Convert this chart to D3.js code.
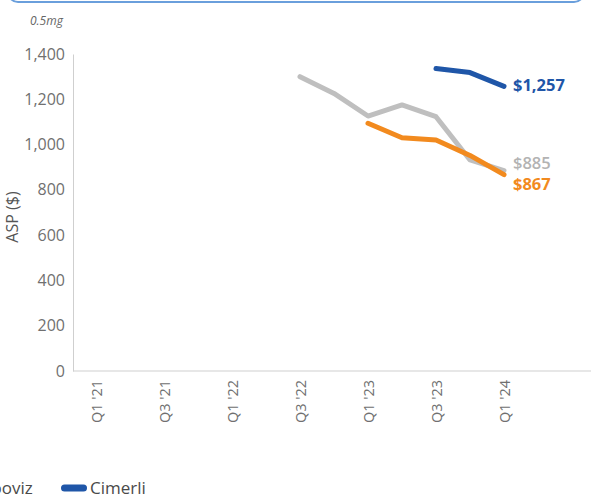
<!DOCTYPE html>
<html lang="en">
<head>
  <meta charset="utf-8">
  <script src="https://d3js.org/d3.v7.min.js"></script>
  <title>ASP 0.5mg</title>
  <style>
    body { margin: 0; background: #fff; }
    svg { display: block; font-family: "Open Sans", sans-serif; }
  </style>
</head>
<body>
<div id="my_dataviz"></div>
<script>
  // quarters on the x axis, every other one labelled
  const quarters = ["Q1 '21", "Q2 '21", "Q3 '21", "Q4 '21", "Q1 '22", "Q2 '22", "Q3 '22",
    "Q4 '22", "Q1 '23", "Q2 '23", "Q3 '23", "Q4 '23", "Q1 '24"];
  const tickQuarters = ["Q1 '21", "Q3 '21", "Q1 '22", "Q3 '22", "Q1 '23", "Q3 '23", "Q1 '24"];
  const yTicks = [0, 200, 400, 600, 800, 1000, 1200, 1400];

  // ASP values ($)
  const lucentisQ = ["Q3 '22", "Q4 '22", "Q1 '23", "Q2 '23", "Q3 '23", "Q4 '23", "Q1 '24"];
  const lucentisV = [1300, 1226, 1126, 1175, 1123, 932, 885];
  const byoovizQ = ["Q1 '23", "Q2 '23", "Q3 '23", "Q4 '23", "Q1 '24"];
  const byoovizV = [1094, 1030, 1020, 952, 867];
  const cimerliQ = ["Q3 '23", "Q4 '23", "Q1 '24"];
  const cimerliV = [1336, 1318, 1257];

  const series = [
    { name: "Lucentis", q: lucentisQ, v: lucentisV, color: "#bfbfbf", text: "#b3b3b3", label: "$885", weight: 600, dy: -7 },
    { name: "Byooviz", q: byoovizQ, v: byoovizV, color: "#f28a1e", text: "#f28a1e", label: "$867", weight: 700, dy: 10 },
    { name: "Cimerli", q: cimerliQ, v: cimerliV, color: "#1f56a8", text: "#1f56a8", label: "$1,257", weight: 700, dy: -1 }
  ];

  const W = 593, H = 497;
  const plotLeft = 73, plotRight = 591;

  const svg = d3.select("#my_dataviz")
    .append("svg")
    .attr("width", W)
    .attr("height", H);

  // bottom edge of the rounded box above the chart
  svg.append("rect")
    .attr("x", 8).attr("y", -40)
    .attr("width", 576).attr("height", 42)
    .attr("rx", 10)
    .attr("fill", "none")
    .attr("stroke", "#6a9fdc")
    .attr("stroke-width", 2);

  const x = d3.scalePoint()
    .domain(quarters)
    .range([96, 504]);

  const y = d3.scaleLinear()
    .domain([0, 1400])
    .range([371, 54]);

  // subtitle
  svg.append("text")
    .attr("x", 30).attr("y", 25)
    .attr("font-size", 12)
    .attr("font-style", "italic")
    .attr("fill", "#666")
    .text("0.5mg");

  // Y axis
  const yAxis = svg.append("g")
    .attr("transform", `translate(${plotLeft},0)`)
    .call(d3.axisLeft(y).tickValues(yTicks).tickSize(0).tickPadding(8).tickFormat(d3.format(",")));
  yAxis.select(".domain").attr("stroke", "#cfcfcf");
  yAxis.selectAll("text")
    .attr("font-size", 16)
    .attr("font-family", "Open Sans, sans-serif")
    .attr("fill", "#707070");

  svg.append("text")
    .attr("transform", "translate(18,217) rotate(-90)")
    .attr("text-anchor", "middle")
    .attr("font-size", 16)
    .attr("fill", "#555")
    .text("ASP ($)");

  // X axis
  const xAxis = svg.append("g")
    .attr("transform", `translate(0,371)`)
    .call(d3.axisBottom(x).tickValues(tickQuarters).tickSize(0));
  xAxis.select(".domain").remove();
  xAxis.selectAll("text")
    .attr("transform", "rotate(-90)")
    .attr("x", -9)
    .attr("y", 0)
    .attr("dy", "0.35em")
    .style("text-anchor", "end")
    .attr("font-size", 14.5)
    .attr("font-family", "Open Sans, sans-serif")
    .attr("fill", "#707070");

  svg.append("line")
    .attr("x1", plotLeft).attr("x2", plotRight)
    .attr("y1", y(0)).attr("y2", y(0))
    .attr("stroke", "#cfcfcf");

  // lines
  const line = d3.line()
    .x(d => x(d[0]))
    .y(d => y(d[1]));

  series.forEach(s => {
    const pts = s.q.map((q, i) => [q, s.v[i]]);
    svg.append("path")
      .datum(pts)
      .attr("d", line)
      .attr("fill", "none")
      .attr("stroke", s.color)
      .attr("stroke-width", 5)
      .attr("stroke-linejoin", "round")
      .attr("stroke-linecap", "round");

    const last = pts[pts.length - 1];
    svg.append("text")
      .attr("x", x(last[0]) + 9)
      .attr("y", y(last[1]) + s.dy)
      .attr("dy", "0.35em")
      .attr("font-size", 16.5)
      .attr("font-weight", s.weight)
      .attr("fill", s.text)
      .text(s.label);
  });

  // legend, cut off at the left edge as in the source
  const legend = svg.append("g").attr("transform", "translate(0,488)");
  const legendX = [-180, -57, 61];
  series.forEach((s, i) => {
    const g = legend.append("g").attr("transform", `translate(${legendX[i]},0)`);
    g.append("rect")
      .attr("x", 0).attr("y", -3.5)
      .attr("width", 26).attr("height", 7)
      .attr("rx", 3.5)
      .attr("fill", s.color);
    g.append("text")
      .attr("x", 29)
      .attr("dy", "0.35em")
      .attr("font-size", 17)
      .attr("fill", "#4a4a4a")
      .text(s.name);
  });
</script>
</body>
</html>
